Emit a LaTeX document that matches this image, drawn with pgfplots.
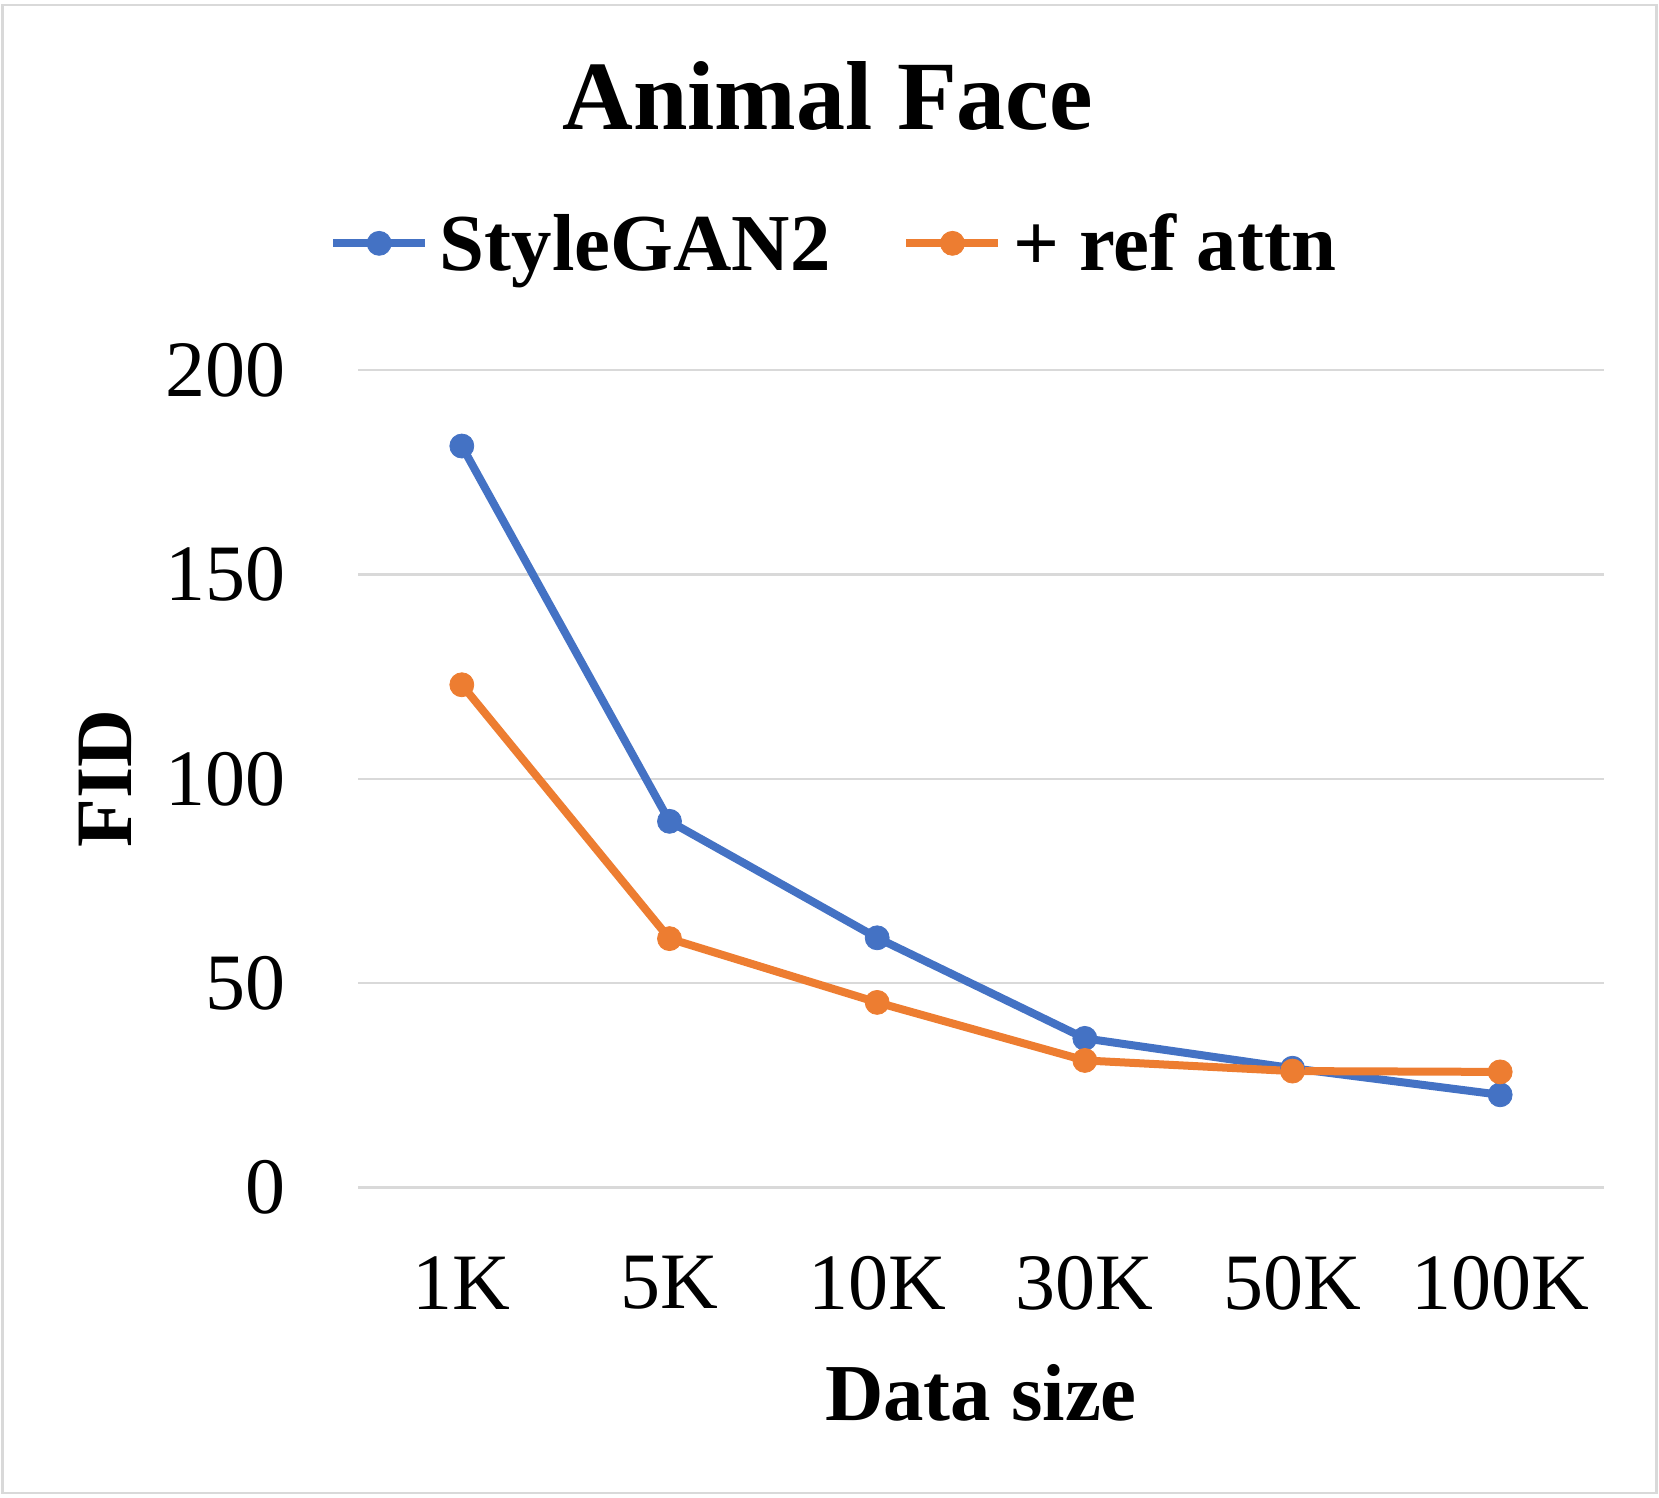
\documentclass[border=0pt]{standalone}
\usepackage{fontspec}
\setmainfont{Liberation Serif}
\usepackage{pgfplots}
\pgfplotsset{compat=1.18}
\definecolor{sgblue}{HTML}{4472C4}
\definecolor{raorange}{HTML}{ED7D31}
\definecolor{gridgray}{HTML}{D9D9D9}
\begin{document}
\begin{tikzpicture}
\useasboundingbox (0,0) rectangle (414.75pt,374.5pt);
\draw[gridgray, line width=0.6pt] (0.6pt,1.2pt) rectangle (414.1pt,373.2pt);
\begin{axis}[
  at={(89.5pt,77.6pt)}, anchor=south west,
  scale only axis, width=311.5pt, height=204.4pt,
  xmin=-0.5, xmax=5.5, ymin=0, ymax=200,
  xtick={0,1,2,3,4,5},
  xticklabels={1K,5K,10K,30K,50K,100K},
  ytick={0,50,100,150,200},
  ymajorgrids, grid style={gridgray, line width=0.6pt},
  axis line style={draw=none},
  major tick style={draw=none},
  /pgf/number format/assume math mode=true,
  tick label style={font=\fontsize{20}{24}\selectfont},
  xticklabel style={anchor=center, yshift=-23.9pt},
  yticklabel style={anchor=east, inner sep=0pt, xshift=-18pt},
  title={Animal Face},
  title style={font=\bfseries\fontsize{24.5}{29}\selectfont, at={(axis description cs:0.3769,1.2651)}, anchor=base, inner sep=0pt},
  xlabel={Data size},
  xlabel style={font=\bfseries\fontsize{20.2}{24}\selectfont, at={(axis description cs:0.5,-0.251)}, anchor=center, inner sep=0pt},
  ylabel={FID},
  ylabel style={font=\bfseries\fontsize{20}{24}\selectfont, at={(axis description cs:-0.2026,0.5)}, anchor=center, inner sep=0pt},
  legend columns=2,
  legend style={at={(axis description cs:0.3809,1.1549)}, anchor=center, draw=none, fill=none,
    inner sep=0pt, outer sep=0pt,
    font=\bfseries\fontsize{20.2}{24}\selectfont,
    nodes={inner sep=0pt, text height=13.5pt, text depth=0pt},
    /tikz/every odd column/.append style={column sep=2.7pt},
    /tikz/every even column/.append style={column sep=18pt}},
  legend image code/.code={\draw[mark repeat=2,mark phase=2,#1] plot coordinates {(0pt,0pt) (11.5pt,0pt) (23pt,0pt)};},
]
\addplot[sgblue, line width=2pt, line join=round, mark=*, mark size=3pt,
  mark options={fill=sgblue, draw=sgblue, solid, line width=0.2pt}] coordinates {
  (0,181.4) (1,89.6) (2,61.1) (3,36.5) (4,29.2) (5,22.7)};
\addlegendentry{StyleGAN2}
\addplot[raorange, line width=2pt, line join=round, mark=*, mark size=3pt,
  mark options={fill=raorange, draw=raorange, solid, line width=0.2pt}] coordinates {
  (0,123.0) (1,60.9) (2,45.3) (3,31.1) (4,28.5) (5,28.3)};
\addlegendentry{+ ref attn}
\end{axis}
\end{tikzpicture}
\end{document}
